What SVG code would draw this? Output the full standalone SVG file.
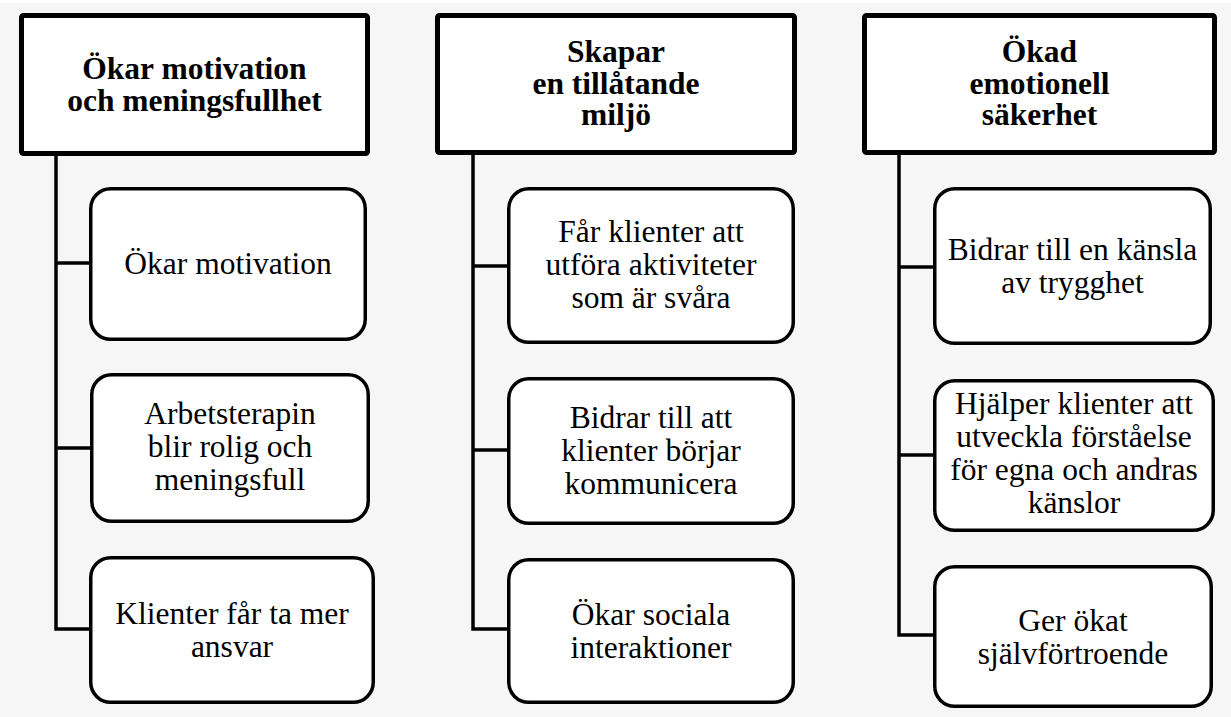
<svg xmlns="http://www.w3.org/2000/svg" width="1231" height="717" viewBox="0 0 1231 717">
  <defs>
    <style>
      .bg { fill: #f6f6f6; }
      .hdr { fill: #ffffff; stroke: #000000; stroke-width: 5; }
      .box { fill: #ffffff; stroke: #000000; stroke-width: 3.5; }
      .conn { fill: none; stroke: #000000; stroke-width: 3.5; stroke-linejoin: miter; }
      .ht { font-family: "Liberation Serif", "Times New Roman", serif; font-size: 31.5px; font-weight: bold; fill: #000000; text-anchor: middle; }
      .bt { font-family: "Liberation Serif", "Times New Roman", serif; font-size: 31.5px; fill: #000000; text-anchor: middle; }
    </style>
  </defs>
  <rect class="bg" x="0" y="0" width="1231" height="717"/>
  <rect x="0" y="0" width="1231" height="3" fill="#ffffff"/>

  <g id="connectors">
    <path class="conn" d="M56 155 V629 H89"/>
    <path class="conn" d="M56 263 H89"/>
    <path class="conn" d="M56 448 H90"/>
    <path class="conn" d="M473 155 V629 H507"/>
    <path class="conn" d="M473 266 H507"/>
    <path class="conn" d="M473 450 H507"/>
    <path class="conn" d="M899 155 V635 H933"/>
    <path class="conn" d="M899 267 H933"/>
    <path class="conn" d="M899 455 H933"/>
  </g>

  <g id="header1">
    <rect class="hdr" x="21.5" y="15.5" width="346" height="138" rx="2"/>
    <text class="ht" x="194.5" y="79">Ökar motivation</text>
    <text class="ht" x="194.5" y="111">och meningsfullhet</text>
  </g>
  <g id="header2">
    <rect class="hdr" x="437.5" y="15.5" width="357" height="137" rx="2"/>
    <text class="ht" x="616" y="62">Skapar</text>
    <text class="ht" x="616" y="93.5">en tillåtande</text>
    <text class="ht" x="616" y="125">miljö</text>
  </g>
  <g id="header3">
    <rect class="hdr" x="864.5" y="15.5" width="350" height="137" rx="2"/>
    <text class="ht" x="1039.5" y="62">Ökad</text>
    <text class="ht" x="1039.5" y="93.5">emotionell</text>
    <text class="ht" x="1039.5" y="125">säkerhet</text>
  </g>

  <g id="c1b1">
    <rect class="box" x="90.75" y="188.75" width="274.5" height="150.5" rx="20"/>
    <text class="bt" x="228" y="274">Ökar motivation</text>
  </g>
  <g id="c1b2">
    <rect class="box" x="91.75" y="374.75" width="276.5" height="146.5" rx="20"/>
    <text class="bt" x="230" y="424">Arbetsterapin</text>
    <text class="bt" x="230" y="457">blir rolig och</text>
    <text class="bt" x="230" y="490">meningsfull</text>
  </g>
  <g id="c1b3">
    <rect class="box" x="90.75" y="557.75" width="282.5" height="144.5" rx="20"/>
    <text class="bt" x="232" y="624">Klienter får ta mer</text>
    <text class="bt" x="232" y="657">ansvar</text>
  </g>

  <g id="c2b1">
    <rect class="box" x="508.75" y="188.75" width="284.5" height="153.5" rx="20"/>
    <text class="bt" x="651" y="242">Får klienter att</text>
    <text class="bt" x="651" y="275">utföra aktiviteter</text>
    <text class="bt" x="651" y="308">som är svåra</text>
  </g>
  <g id="c2b2">
    <rect class="box" x="508.75" y="378.75" width="284.5" height="144.5" rx="20"/>
    <text class="bt" x="651" y="428">Bidrar till att</text>
    <text class="bt" x="651" y="461">klienter börjar</text>
    <text class="bt" x="651" y="494">kommunicera</text>
  </g>
  <g id="c2b3">
    <rect class="box" x="508.75" y="559.75" width="284.5" height="142.5" rx="20"/>
    <text class="bt" x="651" y="625">Ökar sociala</text>
    <text class="bt" x="651" y="658">interaktioner</text>
  </g>

  <g id="c3b1">
    <rect class="box" x="934.75" y="188.75" width="275.5" height="154.5" rx="20"/>
    <text class="bt" x="1072.5" y="260">Bidrar till en känsla</text>
    <text class="bt" x="1072.5" y="293">av trygghet</text>
  </g>
  <g id="c3b2">
    <rect class="box" x="934.75" y="380.75" width="278.5" height="149.5" rx="20"/>
    <text class="bt" x="1074" y="414">Hjälper klienter att</text>
    <text class="bt" x="1074" y="447">utveckla förståelse</text>
    <text class="bt" x="1074" y="480">för egna och andras</text>
    <text class="bt" x="1074" y="513">känslor</text>
  </g>
  <g id="c3b3">
    <rect class="box" x="934.75" y="566.75" width="276.5" height="139.5" rx="20"/>
    <text class="bt" x="1073" y="630.5">Ger ökat</text>
    <text class="bt" x="1073" y="663.5">självförtroende</text>
  </g>
</svg>
